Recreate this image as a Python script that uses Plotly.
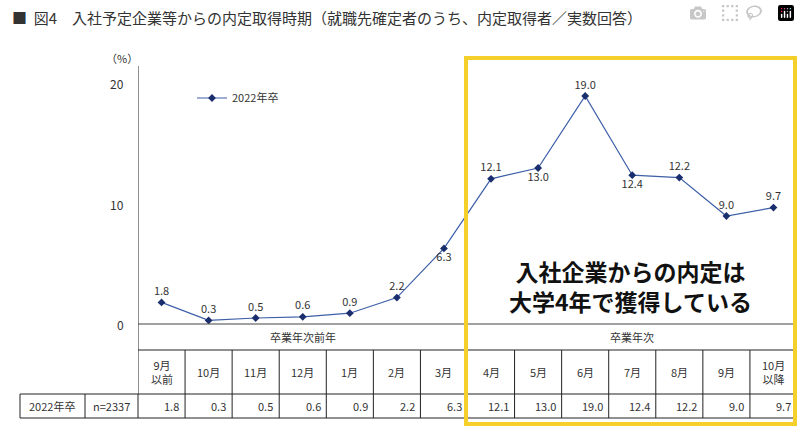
import plotly.graph_objects as go

months = ["9月<br>以前", "10月", "11月", "12月", "1月", "2月", "3月",
          "4月", "5月", "6月", "7月", "8月", "9月", "10月<br>以降"]
values = [1.8, 0.3, 0.5, 0.6, 0.9, 2.2, 6.3, 12.1, 13.0, 19.0, 12.4, 12.2, 9.0, 9.7]
label_pos = ["top center"] * 6 + ["bottom center", "top center", "bottom center",
             "top center", "bottom center", "top center", "top center", "top center"]
yticks = [0, 10, 20]
series_name = "2022年卒"
n_label = "n=2337"
group_labels = ["卒業年次前年", "卒業年次"]

W, H = 800, 428
FONT = "Noto Sans CJK JP"
def py(y):
    return 1 - y / H

def A(**kw):
    d = dict(showarrow=False, xanchor="center", yanchor="middle")
    d.update(kw)
    return d

x = list(range(len(values)))
fig = go.Figure()
fig.add_trace(go.Scatter(
    x=x, y=values, mode="lines+markers+text", name=series_name,
    line=dict(color="#3d5fa8", width=1.2),
    marker=dict(symbol="diamond", size=6, color="#1a2e6e"),
    text=[f"{v:.1f}" for v in values], textposition=label_pos,
    textfont=dict(size=11, color="#333"),
))

shapes = []
ann = []
LINE = dict(color="#222", width=1)
F11 = dict(size=11, color="#333")
ann.append(A(xref="paper", yref="paper", x=10 / W, y=py(18), xanchor="left",
             text="■  図4　入社予定企業等からの内定取得時期（就職先確定者のうち、内定取得者／実数回答）",
             font=dict(size=15, color="#333", family=FONT)))
ann.append(A(xref="paper", yref="paper", x=122 / W, y=py(58), text="（%）", font=F11))
for t in yticks:
    ann.append(A(xref="paper", yref="y", x=126 / W, y=t, xanchor="right", text=str(t),
                 font=dict(size=12, color="#333")))
shapes.append(dict(type="line", xref="x", yref="paper", x0=-0.5, x1=-0.5, y0=py(66), y1=py(394), line=LINE))
shapes.append(dict(type="line", xref="x", yref="paper", x0=-0.5, x1=13.5, y0=py(324), y1=py(324), line=dict(color="#444", width=1.2)))
shapes.append(dict(type="line", xref="x", yref="paper", x0=-0.5, x1=13.5, y0=py(350), y1=py(350), line=LINE))
shapes.append(dict(type="line", xref="paper", yref="paper", x0=20 / W, x1=797 / W, y0=py(394), y1=py(394), line=LINE))
shapes.append(dict(type="line", xref="paper", yref="paper", x0=20 / W, x1=797 / W, y0=py(418), y1=py(418), line=LINE))
shapes.append(dict(type="line", xref="x", yref="paper", x0=13.5, x1=13.5, y0=py(324), y1=py(418), line=LINE))
shapes.append(dict(type="line", xref="x", yref="paper", x0=6.5, x1=6.5, y0=py(324), y1=py(418), line=LINE))
for i in range(len(values) - 1):
    if i != 6:
        shapes.append(dict(type="line", xref="x", yref="paper", x0=i + 0.5, x1=i + 0.5, y0=py(350), y1=py(418), line=LINE))
for xp in [20, 85, 138]:
    shapes.append(dict(type="line", xref="paper", yref="paper", x0=xp / W, x1=xp / W, y0=py(394), y1=py(418), line=LINE))
ann.append(A(xref="x", yref="paper", x=3, y=py(337), text=group_labels[0], font=F11))
ann.append(A(xref="x", yref="paper", x=10, y=py(337), text=group_labels[1], font=F11))
for i, m in enumerate(months):
    ann.append(A(xref="x", yref="paper", x=i, y=py(372), text=m, font=F11))
    ann.append(A(xref="x", yref="paper", x=i + 0.42, y=py(406), xanchor="right", text=f"{values[i]:.1f}", font=F11))
ann.append(A(xref="paper", yref="paper", x=52 / W, y=py(406), text=series_name, font=F11))
ann.append(A(xref="paper", yref="paper", x=111 / W, y=py(406), text=n_label, font=F11))
shapes.append(dict(type="rect", xref="paper", yref="paper", x0=466 / W, x1=795 / W, y0=py(58), y1=py(424),
                   line=dict(color="#f5cf2a", width=4)))
ann.append(A(xref="paper", yref="paper", x=630 / W, y=py(286), text="<b>入社企業からの内定は<br>大学4年で獲得している</b>",
             font=dict(size=23, color="#111", family=FONT)))

fig.update_layout(
    width=W, height=H, margin=dict(l=0, r=0, t=0, b=0),
    paper_bgcolor="white", plot_bgcolor="white",
    font=dict(family=FONT, color="#333"),
    xaxis=dict(domain=[138 / W, 797 / W], range=[-0.5, 13.5], visible=False, fixedrange=True),
    yaxis=dict(domain=[py(324), py(66)], range=[0, 21.5], visible=False, fixedrange=True),
    showlegend=True,
    legend=dict(x=192 / W, y=py(98), xanchor="left", yanchor="middle", bgcolor="rgba(0,0,0,0)",
                font=F11),
    shapes=shapes, annotations=ann,
)
fig.write_html("out.html", post_script="document.body.style.margin='0';document.body.style.overflow='hidden';")
